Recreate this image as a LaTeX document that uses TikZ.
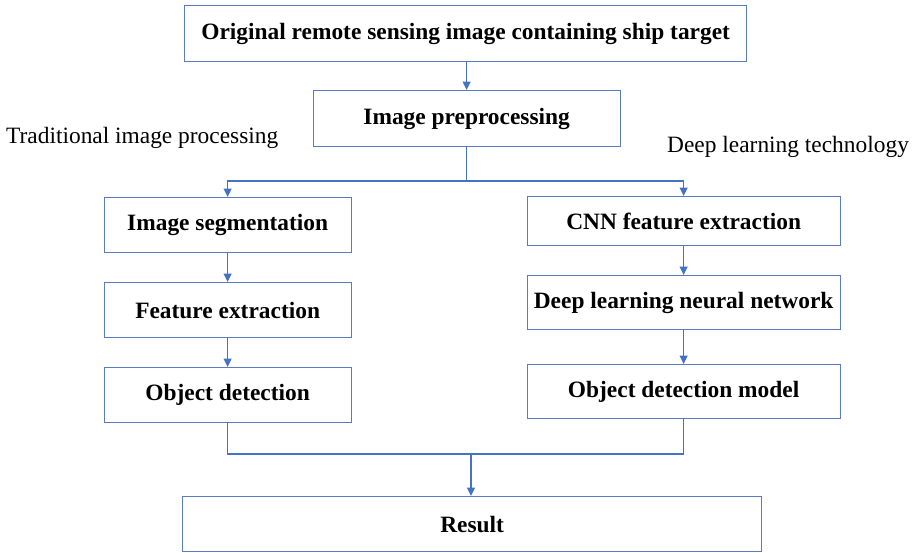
\documentclass[tikz,border=0pt]{standalone}
\usepackage{fontspec}
\setmainfont{Liberation Serif}
\usetikzlibrary{arrows.meta}
\definecolor{flowblue}{HTML}{4472C4}
\definecolor{boxedge}{HTML}{5B7BC0}
\begin{document}
\begin{tikzpicture}[x=1pt,y=-1pt,
  every node/.style={font=\fontsize{23.4}{27}\selectfont},
  stepbox/.style={draw=boxedge,line width=1.3pt,inner sep=0pt,font=\fontsize{23.4}{27}\selectfont\bfseries},
  flow/.style={draw=flowblue,line width=1.3pt},
  arr/.style={flow,-{Triangle[length=8.5pt,width=8pt]}}]
\useasboundingbox (0,0) rectangle (918,552);
% boxes, placed by their corners
\node[stepbox,minimum width=562pt,minimum height=56pt,anchor=north west] (orig) at (184,5) {Original remote sensing image containing ship target};
\node[stepbox,minimum width=307pt,minimum height=56pt,anchor=north west] (pre) at (312.5,90) {Image preprocessing};
\node[stepbox,minimum width=247pt,minimum height=55pt,anchor=north west] (seg) at (103.5,197) {Image segmentation};
\node[stepbox,minimum width=247pt,minimum height=55pt,anchor=north west] (feat) at (103.5,282) {Feature extraction};
\node[stepbox,minimum width=247pt,minimum height=55pt,anchor=north west] (odet) at (103.5,367) {Object detection};
\node[stepbox,minimum width=313pt,minimum height=49pt,anchor=north west] (cnn) at (526.5,196) {CNN feature extraction};
\node[stepbox,minimum width=313pt,minimum height=54pt,anchor=north west] (dlnn) at (526.5,275) {Deep learning neural network};
\node[stepbox,minimum width=313pt,minimum height=54pt,anchor=north west] (odm) at (526.5,364) {Object detection model};
\node[stepbox,minimum width=579pt,minimum height=55pt,anchor=north west] (res) at (182,496) {Result};
% branch labels
\node[anchor=west,inner sep=0pt] (lbl1) at (6,138) {Traditional image processing};
\node[anchor=west,inner sep=0pt] (lbl2) at (667,147) {Deep learning technology};
% connectors
\coordinate (split) at (pre.south |- 0,181);
\coordinate (merge) at (471,454);
\draw[arr] (orig.south -| pre.south) -- (pre.north);
\draw[flow] (pre.south) -- (split);
\draw[arr] (split) -| (seg.north);
\draw[arr] (split) -| (cnn.north);
\draw[arr] (seg) -- (feat);
\draw[arr] (feat) -- (odet);
\draw[arr] (cnn) -- (dlnn);
\draw[arr] (dlnn) -- (odm);
\draw[flow] (odet.south) |- (merge);
\draw[flow] (odm.south) |- (merge);
\draw[arr] (merge) -- (merge |- res.north);
\end{tikzpicture}
\end{document}
